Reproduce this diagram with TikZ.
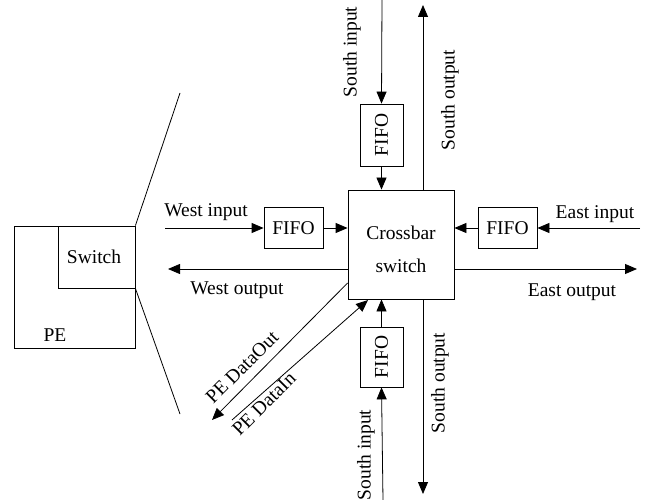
\documentclass[tikz,border=0pt]{standalone}
\usepackage{fontspec}
\setmainfont{Liberation Serif}
\usetikzlibrary{arrows.meta}
\begin{document}
\begin{tikzpicture}[x=1pt,y=-1pt,
  every node/.style={font=\fontsize{19.5}{23}\selectfont, inner sep=0pt},
  box/.style={draw, line width=0.8pt, fill=white},
  conn/.style={line width=0.8pt},
  arr/.style={line width=0.8pt, -{Triangle[length=12pt,width=10pt]}},
  lbl/.style={text=black}]
\useasboundingbox (0,0) rectangle (646,500);
% PE block
\node[box, minimum width=121pt, minimum height=122pt] (pe) at (74.5,287) {};
\node[box, minimum width=77pt, minimum height=62pt] (sw) at (96.5,257) {};
\node (swt) at (94,257) {Switch};
\node (pet) at (55,335) {PE};
\coordinate (zt) at (180,93);
\coordinate (zb) at (180,414);
\draw[conn] (sw.north east) -- (zt);
\draw[conn] (sw.south east) -- (zb);
% crossbar
\node[box, minimum width=106pt, minimum height=109pt] (xbar) at (401,244.5) {};
\node[align=center, font=\fontsize{19.5}{33}\selectfont] (xbart) at (401,249) {Crossbar\\switch};
% FIFOs
\node[box, minimum width=59pt, minimum height=41pt] (wfifo) at (293.5,228) {FIFO};
\node[box, minimum width=59pt, minimum height=41pt] (efifo) at (507.5,228) {FIFO};
\node[box, minimum width=43pt, minimum height=62pt] (tfifo) at (381.5,135) {};
\node[rotate=90] (tfifot) at (tfifo.center) {FIFO};
\node[box, minimum width=43pt, minimum height=60pt] (bfifo) at (381.5,357) {};
\node[rotate=90] (bfifot) at (bfifo.center) {FIFO};
% west
\coordinate (win) at (165,228);
\draw[arr] (win) -- (wfifo.west);
\draw[arr] (wfifo.east) -- (wfifo.east -| xbar.west);
\coordinate (wout) at (168,269);
\draw[arr] (xbar.west |- wout) -- (wout);
\node[lbl] (wint) at (206,212) {West input};
\node[lbl] (woutt) at (237,290) {West output};
% east
\coordinate (ein) at (640,228);
\draw[arr] (ein) -- (efifo.east);
\draw[arr] (efifo.west) -- (efifo.west -| xbar.east);
\coordinate (eout) at (637,269);
\draw[arr] (xbar.east |- eout) -- (eout);
\node[lbl] (eint) at (595,214) {East input};
\node[lbl] (eoutt) at (572,292) {East output};
% north
\coordinate (nin) at (382,0);
\draw[arr] (nin) -- (tfifo.north);
\draw[arr] (tfifo.south) -- (tfifo.south |- xbar.north);
\coordinate (nout) at (423,5);
\draw[arr] (xbar.north -| nout) -- (nout);
\node[lbl, rotate=90] (nint) at (352,52) {South input};
\node[lbl, rotate=90] (noutt) at (450,100) {South output};
% south
\coordinate (sin) at (383,500);
\draw[arr] (sin) -- (bfifo.south);
\draw[arr] (bfifo.north) -- (bfifo.north |- xbar.south);
\coordinate (sout) at (423,494);
\draw[arr] (xbar.south -| sout) -- (sout);
\node[lbl, rotate=90] (sint) at (366,455) {South input};
\node[lbl, rotate=90] (soutt) at (440,383) {South output};
% PE data
\coordinate (pdo) at (212,420);
\draw[arr] (xbar.west |- 0,283) -- (pdo);
\coordinate (pdi) at (232,420);
\coordinate (pdiend) at (368,300);
\draw[arr] (pdi) -- (pdiend);
\node[lbl, rotate=45] (pdot) at (242,367) {PE DataOut};
\node[lbl, rotate=45] (pdit) at (264,404) {PE DataIn};
\end{tikzpicture}
\end{document}
